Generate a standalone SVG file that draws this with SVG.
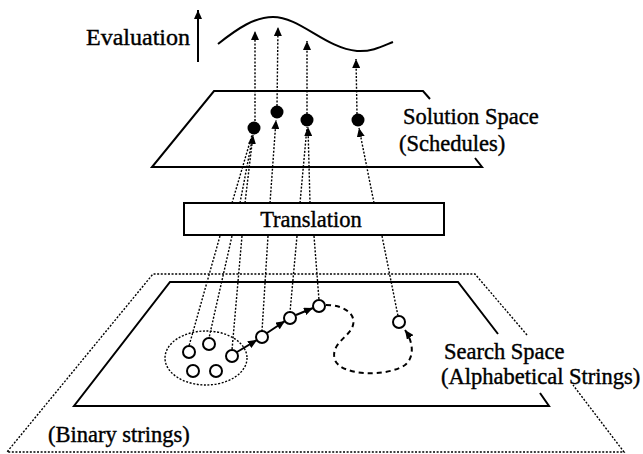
<svg xmlns="http://www.w3.org/2000/svg" width="643" height="454" viewBox="0 0 643 454">
<style>
text{font-family:"Liberation Serif","Times New Roman",serif;font-size:22.5px;fill:#000;stroke:#000;stroke-width:0.4}
.solid{fill:none;stroke:#000;stroke-width:2}
.dot{fill:none;stroke:#000;stroke-width:1.4;stroke-dasharray:2 1.6}
.dash{fill:none;stroke:#000;stroke-width:2;stroke-dasharray:5 4}
.open{fill:#fff;stroke:#000;stroke-width:2}
</style>
<defs>
<marker id="ah" markerUnits="userSpaceOnUse" markerWidth="10" markerHeight="8" refX="9" refY="4" orient="auto">
<path d="M0,0 L9,4 L0,8 Z" fill="#000"/>
</marker>
</defs>
<g id="evaluation">
<text x="190" y="45" text-anchor="end" style="font-size:24px">Evaluation</text>
<line class="solid" x1="198" y1="62" x2="198" y2="10" marker-end="url(#ah)"/>
<path class="solid" d="M218,44 C238,28 255,17 273,17 C300,17 325,48 357,51 C372,52 383,46 393,42"/>
</g>
<g id="solution-space">
<polyline class="solid" points="430,99 423,91 214,91 152,167 482,167 475,158"/>
<text x="403" y="124">Solution Space</text>
<text x="399" y="151">(Schedules)</text>
</g>
<g id="translation">
<rect x="184" y="203" width="260" height="32" fill="#fff" stroke="#000" stroke-width="2"/>
<text x="311" y="227" text-anchor="middle">Translation</text>
</g>
<g id="search-space">
<polyline class="dot" points="527,335 475,274 153,274 7,452 624,452 573,385"/>
<polyline class="solid" points="498,334 458,282 170,282 74,406 549,406 540,393"/>
<text x="444" y="359">Search Space</text>
<text x="441" y="384">(Alphabetical Strings)</text>
<text x="48" y="442">(Binary strings)</text>
<ellipse class="dot" cx="206" cy="358" rx="41" ry="27"/>
</g>
<g id="connectors">
<line class="dot" x1="255" y1="121" x2="255" y2="31" marker-end="url(#ah)"/>
<line class="dot" x1="277" y1="106" x2="278" y2="27" marker-end="url(#ah)"/>
<line class="dot" x1="307" y1="114" x2="307" y2="41" marker-end="url(#ah)"/>
<line class="dot" x1="357" y1="114" x2="356" y2="59" marker-end="url(#ah)"/>
<line class="dot" x1="232" y1="203" x2="252" y2="135"/>
<line class="dot" x1="240" y1="203" x2="253" y2="135"/>
<line class="dot" x1="245" y1="203" x2="253" y2="135" marker-end="url(#ah)"/>
<line class="dot" x1="270" y1="203" x2="276" y2="120" marker-end="url(#ah)"/>
<line class="dot" x1="300" y1="203" x2="307" y2="127"/>
<line class="dot" x1="310" y1="203" x2="308" y2="127" marker-end="url(#ah)"/>
<line class="dot" x1="374" y1="203" x2="359" y2="128" marker-end="url(#ah)"/>
<line class="dot" x1="220" y1="236" x2="189" y2="346"/>
<line class="dot" x1="232" y1="236" x2="209" y2="338"/>
<line class="dot" x1="242" y1="236" x2="232" y2="350"/>
<line class="dot" x1="268" y1="236" x2="262" y2="331"/>
<line class="dot" x1="297" y1="236" x2="290" y2="312"/>
<line class="dot" x1="314" y1="236" x2="319" y2="300"/>
<line class="dot" x1="382" y1="236" x2="398" y2="316"/>
<line class="solid" x1="237" y1="352" x2="257" y2="340" marker-end="url(#ah)"/>
<line class="solid" x1="267" y1="333" x2="285" y2="321" marker-end="url(#ah)"/>
<line class="solid" x1="296" y1="315" x2="313" y2="308" marker-end="url(#ah)"/>
<path class="dash" d="M326,305 C345,305 358,315 352,328 C347,338 330,345 335,360 C340,375 385,378 405,365 C416,356 412,340 405,330" marker-end="url(#ah)"/>
</g>
<g id="solutions">
<circle cx="254" cy="128" r="6.5" fill="#000"/>
<circle cx="277" cy="112" r="6.5" fill="#000"/>
<circle cx="307" cy="120" r="6.5" fill="#000"/>
<circle cx="358" cy="120" r="6.5" fill="#000"/>
</g>
<g id="strings">
<circle class="open" cx="189" cy="352" r="6"/>
<circle class="open" cx="209" cy="344" r="6"/>
<circle class="open" cx="232" cy="356" r="6"/>
<circle class="open" cx="193" cy="371" r="6"/>
<circle class="open" cx="216" cy="371" r="6"/>
<circle class="open" cx="262" cy="337" r="6"/>
<circle class="open" cx="290" cy="318" r="6"/>
<circle class="open" cx="319" cy="306" r="6"/>
<circle class="open" cx="399" cy="322" r="6"/>
</g>
</svg>
